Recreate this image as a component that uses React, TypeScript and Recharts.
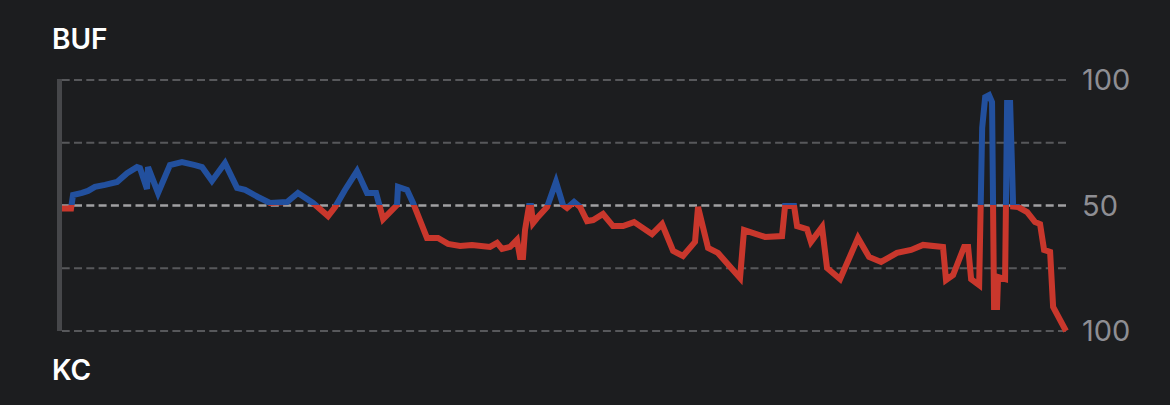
import React from "react";
import { LineChart, Line, XAxis, YAxis, ReferenceLine } from "recharts";

// game minute (0-60)
const minutes = [
  0, 0.54, 0.66, 1.2, 1.55, 1.97, 2.57, 3.29, 3.89, 4.48,
  4.66, 5.08, 5.14, 5.74, 6.45, 7.17, 7.95, 8.37, 8.96, 9.74,
  10.46, 10.94, 11.71, 12.43, 13.45, 14.1, 15.0, 15.9, 16.32, 16.91,
  17.63, 18.23, 18.77, 19.19, 20.02, 20.08, 20.62, 20.98, 21.81, 22.47,
  23.07, 23.79, 24.5, 25.58, 26.0, 26.3, 26.78, 27.19, 27.37, 27.55,
  27.67, 27.91, 28.03, 28.15, 28.39, 28.99, 29.52, 29.94, 30.18, 30.6,
  30.96, 31.38, 31.74, 32.33, 32.93, 33.53, 34.19, 35.26, 35.86, 36.52,
  37.11, 37.83, 38.01, 38.61, 39.2, 40.52, 40.76, 42.01, 43.03, 43.21,
  43.75, 43.93, 44.52, 44.76, 45.42, 45.72, 46.5, 47.57, 48.23, 48.95,
  49.9, 50.74, 51.46, 52.65, 52.83, 53.25, 53.91, 54.15, 54.33, 54.81,
  54.99, 55.17, 55.4, 55.58, 55.7, 55.88, 55.94, 56.36, 56.48, 56.66,
  56.78, 56.84, 57.14, 57.68, 58.15, 58.45, 58.69, 59.05, 59.23, 60,
];

// BUF win probability (%)
const bufWinProb = [
  48.8, 48.8, 54.2, 55.0, 55.8, 57.4, 58.2, 59.4, 62.9, 65.3,
  64.9, 56.6, 65.3, 55.0, 66.1, 67.3, 66.1, 65.3, 59.8, 66.9,
  57.0, 56.2, 53.4, 51.0, 51.4, 55.0, 51.0, 45.8, 49.4, 56.2,
  63.7, 55.0, 55.0, 44.6, 50.2, 57.4, 56.2, 51.0, 37.1, 37.1,
  34.7, 33.9, 34.3, 33.5, 35.1, 32.7, 33.5, 36.3, 29.5, 29.5,
  40.2, 49.8, 49.8, 43.0, 45.0, 49.4, 59.4, 50.2, 49.0, 51.4,
  49.4, 43.8, 44.2, 46.6, 41.8, 41.8, 43.4, 38.6, 42.6, 31.9,
  29.9, 35.5, 49.4, 33.1, 31.1, 21.1, 40.2, 37.5, 37.8, 49.8,
  49.8, 41.8, 40.6, 35.5, 41.4, 25.1, 20.7, 37.1, 29.5, 27.5,
  31.1, 32.3, 34.3, 33.5, 20.3, 22.3, 33.5, 33.5, 20.7, 18.3,
  80.9, 93.2, 94.0, 91.2, 9.6, 9.6, 21.5, 20.7, 90.8, 90.8,
  64.1, 49.6, 49.4, 47.4, 43.4, 42.6, 32.3, 31.5, 9.6, 0,
];

const yTicks = [0, 50, 100];
const gridValues = [0, 25, 75, 100];
const tickLabels: Record<number, string> = { 0: "100", 50: "50", 100: "100" };
const teamTop = "BUF";
const teamBottom = "KC";

const data = minutes.map((m, i) => ({ t: m, p: bufWinProb[i] }));

const W = 1170;
const H = 405;
const PLOT_TOP = 80;
const PLOT_BOTTOM = 331;
const PLOT_LEFT = 62;
const RIGHT_W = 104;

const BLUE = "#22509e";
const RED = "#c9372c";
const BG = "#1c1d1f";

export default function App() {
  return (
    <div
      style={{
        position: "absolute",
        top: 0,
        left: 0,
        width: W,
        height: H,
        background: BG,
        overflow: "hidden",
      }}
    >
      <LineChart
        width={W}
        height={H}
        data={data}
        margin={{ top: PLOT_TOP, bottom: H - PLOT_BOTTOM, left: PLOT_LEFT, right: 0 }}
      >
        <defs>
          <linearGradient
            id="wpGrad"
            gradientUnits="userSpaceOnUse"
            x1="0"
            y1={PLOT_TOP}
            x2="0"
            y2={PLOT_BOTTOM}
          >
            <stop offset="0" stopColor={BLUE} />
            <stop offset="0.5" stopColor={BLUE} />
            <stop offset="0.5" stopColor={RED} />
            <stop offset="1" stopColor={RED} />
          </linearGradient>
        </defs>
        <XAxis dataKey="t" type="number" domain={[0, 60]} hide />
        <YAxis
          orientation="right"
          domain={[0, 100]}
          ticks={yTicks}
          width={RIGHT_W}
          axisLine={false}
          tickLine={false}
          tickSize={0}
          tickMargin={16}
          interval={0}
          tickFormatter={(v: number) => tickLabels[v] ?? String(v)}
          tick={{ fill: "#8e8e93", fontSize: 29, fontFamily: "Inter, 'Noto Sans', sans-serif" }}
        />
        {gridValues.map((v) => (
          <ReferenceLine
            key={v}
            y={v}
            stroke="#57585b"
            strokeWidth={2}
            strokeDasharray="8 4.3"
          />
        ))}
        <ReferenceLine y={50} stroke="#a0a0a2" strokeWidth={2.5} strokeDasharray="8 4.3" />
        <Line
          type="linear"
          dataKey="p"
          stroke="url(#wpGrad)"
          strokeWidth={6}
          dot={false}
          activeDot={false}
          isAnimationActive={false}
        />
      </LineChart>
      <svg
        width={W}
        height={H}
        style={{ position: "absolute", top: 0, left: 0, pointerEvents: "none" }}
      >
        <rect x={57} y={PLOT_TOP - 1} width={5} height={PLOT_BOTTOM - PLOT_TOP + 1} fill="#46474a" />
        <text
          x={52}
          y={49}
          fill="#ffffff"
          fontSize={28}
          fontWeight={600}
          fontFamily="Inter, 'Noto Sans', sans-serif"
        >
          {teamTop}
        </text>
        <text
          x={52}
          y={380}
          fill="#ffffff"
          fontSize={28}
          fontWeight={600}
          fontFamily="Inter, 'Noto Sans', sans-serif"
        >
          {teamBottom}
        </text>
      </svg>
    </div>
  );
}
